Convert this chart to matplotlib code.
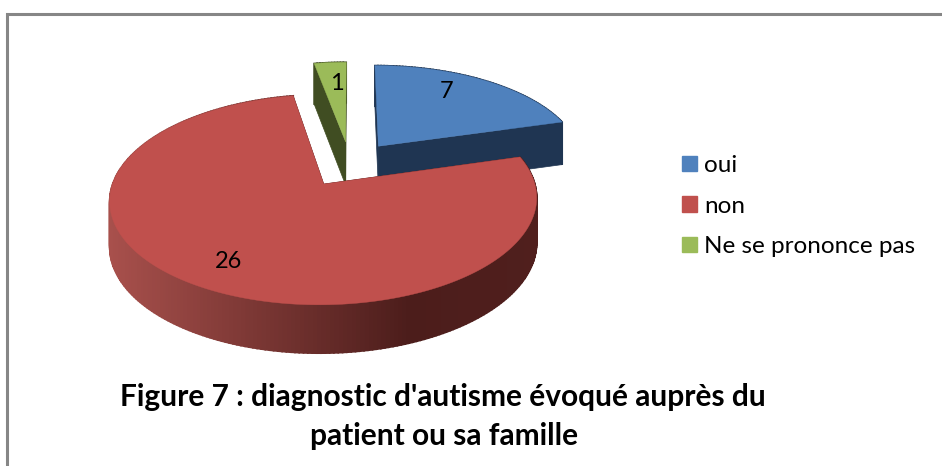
import numpy as np
import matplotlib
matplotlib.use("Agg")
import matplotlib.pyplot as plt
from matplotlib.patches import Patch, Polygon

labels = ["oui", "non", "Ne se prononce pas"]
values = [7, 26, 1]
value_text = ["7", "26", "1"]
title_lines = ["Figure 7 : diagnostic d'autisme évoqué auprès du", "patient ou sa famille"]

top_colors = ["#4f81bd", "#c0504d", "#9bbb59"]
side_colors = ["#1f3552", "#4d1e1c", "#404d22"]

# pie geometry in pixels, with a bit of perspective
cx, cy = 350, 164
radius = 205
tilt = 97
persp = 0.144
explode = 0.236
depth = 44


def project(u, v, down=False):
    s = 1 / (1 - persp * v)
    x = cx + radius * u * s
    y = cy + tilt * v * s
    if down:
        y = y + depth * s ** 0.5
    return x, y


def rim_color(x):
    # red side gets darker from left to right
    r = np.interp(x, [110, 410, 540], [168, 76, 80])
    g = np.interp(x, [110, 410, 540], [80, 29, 31])
    b = np.interp(x, [110, 410, 540], [76, 27, 29])
    return (r / 255, g / 255, b / 255)


fig = plt.figure(figsize=(9.42, 4.66), dpi=100)
ax = fig.add_axes([0, 0, 1, 1])
ax.set_xlim(0, 942)
ax.set_ylim(466, 0)
ax.axis("off")

# chart frame, open on the right and bottom
ax.plot([7, 7, 942], [466, 14, 14], color="#868686", lw=2.2, solid_joinstyle="miter")

total = sum(values)
edges = np.cumsum([0] + values) / total * 2 * np.pi

for i in [0, 2, 1]:
    a0, a1 = edges[i], edges[i + 1]
    mid = (a0 + a1) / 2
    u0 = explode * np.sin(mid)
    v0 = -explode * np.cos(mid)
    angles = np.linspace(a0, a1, max(int(np.degrees(a1 - a0)), 12))
    us = u0 + np.sin(angles)
    vs = v0 - np.cos(angles)

    # radial side faces
    for a in [a0, a1]:
        ue, ve = u0 + np.sin(a), v0 - np.cos(a)
        face = [project(u0, v0), project(ue, ve), project(ue, ve, True), project(u0, v0, True)]
        ax.add_patch(Polygon(face, closed=True, fc=side_colors[i], ec=side_colors[i], lw=0.5))

    # outer rim, thick edges so the strips leave no seams
    for j in range(len(angles) - 1):
        quad = [
            project(us[j], vs[j]),
            project(us[j + 1], vs[j + 1]),
            project(us[j + 1], vs[j + 1], True),
            project(us[j], vs[j], True),
        ]
        col = side_colors[i]
        if i == 1:
            col = rim_color(quad[0][0])
        ax.add_patch(Polygon(quad, closed=True, fc=col, ec=col, lw=1.2))

    # top face
    top = [project(u0, v0)] + [project(u, v) for u, v in zip(us, vs)]
    ax.add_patch(Polygon(top, closed=True, fc=top_colors[i], ec=top_colors[i], lw=0.3))

# value labels
ax.text(447, 91, value_text[0], fontsize=17, family="Lato", ha="center", va="center", color="black")
ax.text(229, 262, value_text[1], fontsize=17, family="Lato", ha="center", va="center", color="black")
ax.text(337, 84, value_text[2], fontsize=17, family="Lato", ha="center", va="center", color="black")

handles = [Patch(fc=c, ec=c, label=l) for c, l in zip(top_colors, labels)]
ax.legend(
    handles=handles,
    loc="upper left",
    bbox_to_anchor=(675, 148),
    bbox_transform=ax.transData,
    frameon=False,
    prop={"family": "Lato", "size": 17.5},
    handlelength=0.6,
    handleheight=0.6,
    handletextpad=0.3,
    labelspacing=0.8,
    borderpad=0.3,
    borderaxespad=0,
)

ax.text(443, 397, title_lines[0], fontsize=21.5, family="Lato", fontweight="bold", ha="center", va="center")
ax.text(444, 436, title_lines[1], fontsize=21.5, family="Lato", fontweight="bold", ha="center", va="center")

plt.savefig("out.png", dpi=100)
